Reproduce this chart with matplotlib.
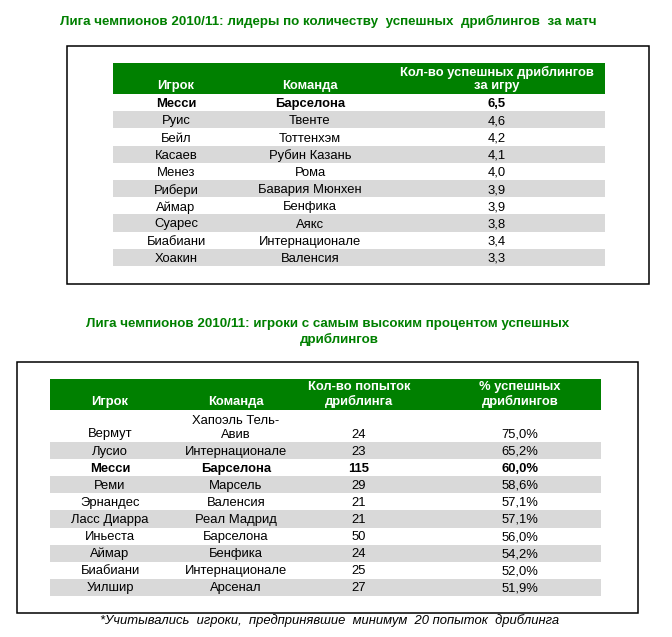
import numpy as np
import matplotlib
matplotlib.use('Agg')
import matplotlib.pyplot as plt
from matplotlib.patches import Rectangle

plt.rcParams['font.family'] = ['Liberation Sans', 'DejaVu Sans']

# data: table 1 - successful dribbles per game
players1 = ['Месси', 'Руис', 'Бейл', 'Касаев', 'Менез', 'Рибери', 'Аймар', 'Суарес', 'Биабиани', 'Хоакин']
teams1 = ['Барселона', 'Твенте', 'Тоттенхэм', 'Рубин Казань', 'Рома', 'Бавария Мюнхен',
          'Бенфика', 'Аякс', 'Интернационале', 'Валенсия']
dribbles1 = [6.5, 4.6, 4.2, 4.1, 4.0, 3.9, 3.9, 3.8, 3.4, 3.3]
header1 = ['Игрок', 'Команда', 'Кол-во успешных дриблингов\nза игру']

# data: table 2 - best dribble success rate
players2 = ['Вермут', 'Лусио', 'Месси', 'Реми', 'Эрнандес', 'Ласс Диарра', 'Иньеста', 'Аймар', 'Биабиани', 'Уилшир']
teams2 = ['Хапоэль Тель-\nАвив', 'Интернационале', 'Барселона', 'Марсель', 'Валенсия', 'Реал Мадрид',
          'Барселона', 'Бенфика', 'Интернационале', 'Арсенал']
attempts2 = [24, 23, 115, 29, 21, 21, 50, 24, 25, 27]
pct2 = [75.0, 65.2, 60.0, 58.6, 57.1, 57.1, 56.0, 54.2, 52.0, 51.9]
header2 = ['Игрок', 'Команда', 'Кол-во попыток\nдриблинга', '% успешных\nдриблингов']

title1 = 'Лига чемпионов 2010/11: лидеры по количеству  успешных  дриблингов  за матч'
title2a = 'Лига чемпионов 2010/11: игроки с самым высоким процентом успешных'
title2b = 'дриблингов'
note = '*Учитывались  игроки,  предпринявшие  минимум  20 попыток  дриблинга'

green = '#008000'
grey = '#d9d9d9'
fs = 9.4
tfs = 9.6

fig = plt.figure(figsize=(6.72, 6.37), dpi=100)
ax = fig.add_axes([0, 0, 1, 1])
ax.set_xlim(0, 672)
ax.set_ylim(637, 0)
ax.axis('off')


def comma(v, fmt):
    return (fmt % v).replace('.', ',')


# ---------- table 1 ----------
ax.text(328, 21, title1, color=green, fontsize=tfs, fontweight='bold', ha='center', va='center')
ax.add_patch(Rectangle((67, 46), 582, 238, fill=False, ec='black', lw=1.1))

x0, x1 = 113, 605
ax.barh(78.5, x1 - x0, left=x0, height=31, color=green)
cols1 = [176, 310, 497]
for cx, h in zip(cols1, header1):
    ax.text(cx, 92.5, h, color='white', fontsize=fs, fontweight='bold', ha='center', va='bottom',
            linespacing=1.2)

rh = 17.2
top = 94
for i in range(len(players1)):
    yc = top + rh * (i + 0.5)
    if i % 2 == 1:
        ax.barh(yc, x1 - x0, left=x0, height=rh, color=grey)
    w = 'bold' if players1[i] == 'Месси' else 'normal'
    vals = [players1[i], teams1[i], comma(dribbles1[i], '%.1f')]
    for cx, v in zip(cols1, vals):
        ax.text(cx, yc + 1.5, v, fontsize=fs, fontweight=w, ha='center', va='center')

# ---------- table 2 ----------
ax.text(328, 324, title2a, color=green, fontsize=tfs, fontweight='bold', ha='center', va='center')
ax.text(339, 339, title2b, color=green, fontsize=tfs, fontweight='bold', ha='center', va='center')
ax.add_patch(Rectangle((17, 362), 621, 251, fill=False, ec='black', lw=1.1))

x0, x1 = 50, 601
ax.barh(394.5, x1 - x0, left=x0, height=31, color=green)
cols2 = [110, 236, 359, 520]
for cx, h in zip(cols2, header2):
    ax.text(cx, 408.5, h, color='white', fontsize=fs, fontweight='bold', ha='center', va='bottom',
            linespacing=1.2)

heights2 = np.array([32] + [17.1] * (len(players2) - 1))
tops2 = 410 + np.concatenate([[0], np.cumsum(heights2)[:-1]])
for i in range(len(players2)):
    yc = tops2[i] + heights2[i] / 2
    if i % 2 == 1:
        ax.barh(yc, x1 - x0, left=x0, height=heights2[i], color=grey)
    w = 'bold' if players2[i] == 'Месси' else 'normal'
    vals = [players2[i], teams2[i], str(attempts2[i]), comma(pct2[i], '%.1f') + '%']
    ybase = tops2[i] + heights2[i] - 1.5
    for cx, v in zip(cols2, vals):
        ax.text(cx, ybase, v, fontsize=fs, fontweight=w, ha='center', va='bottom', linespacing=1.2)

ax.text(330, 621, note, fontsize=fs, style='italic', ha='center', va='center')

fig.savefig('out.png', dpi=100)
